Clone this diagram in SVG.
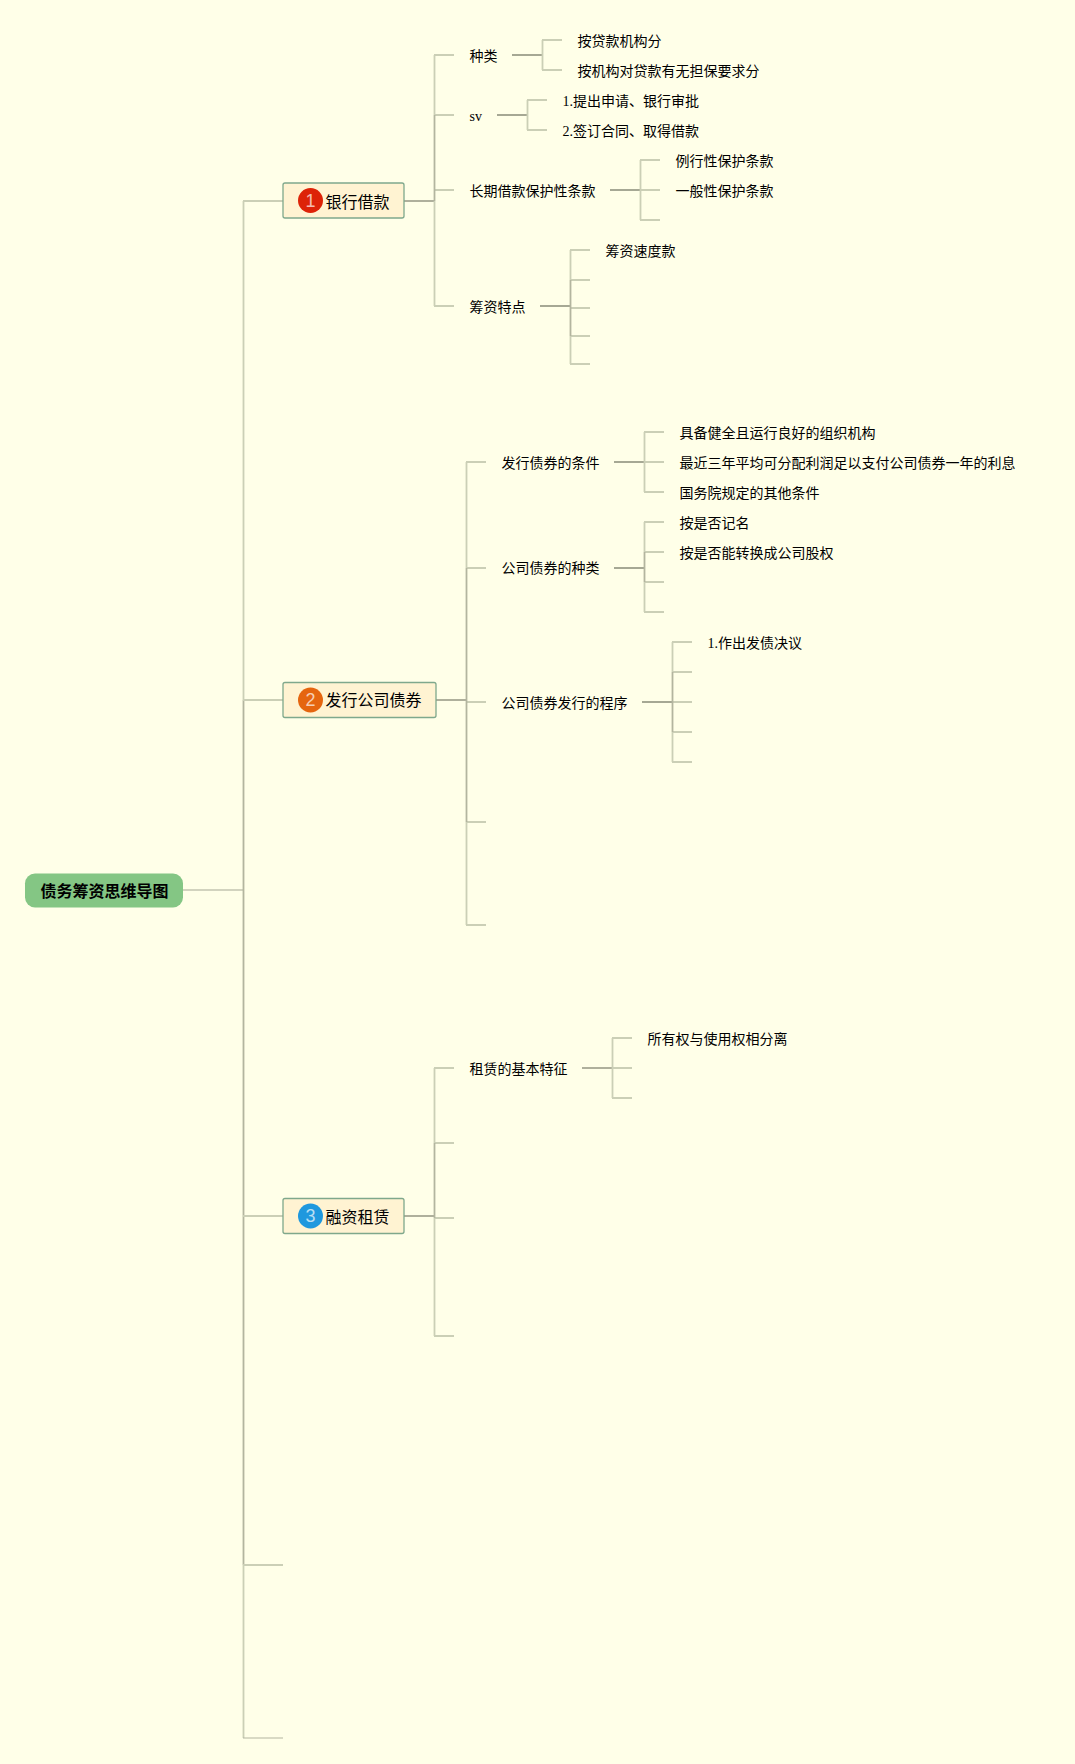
<svg xmlns="http://www.w3.org/2000/svg" width="1075" height="1764" viewBox="0 0 1075 1764">
<style>
text{font-family:"Liberation Serif","Noto Sans CJK SC",serif;fill:#000}
.t{font-size:14px}
.m{font-size:16px}
.r{font-size:16px;font-weight:700}
.n{font-size:18px;fill:#fff;fill-opacity:.7;text-anchor:middle;font-family:"Liberation Sans",sans-serif}
.box{fill:#fff3d2;stroke:#7fa88c;stroke-width:1.3}
path{fill:none;stroke-width:1.8}
.a{stroke:#b3b59f}
.b{stroke:#cbcfb6}
.c{stroke:#a6a894}
</style>
<rect width="1075" height="1764" fill="#ffffe8"/>
<g id="connectors">
<path class="c" d="M183 890H243" style="stroke-width:1.1"/>
<path class="b" d="M243.500 201V700M243.500 1565V1738"/>
<path class="a" d="M243.500 700V1565"/>
<path class="b" d="M243 201H283M243 700H283M243 1216H283M243 1565H283"/>
<path class="a" d="M243 1738H283" style="stroke-width:1.2"/>
<path class="c" d="M404 201H434"/>
<path class="b" d="M434.500 55V115M434.500 201V306M434 55H454M434 115H454M434 190H454M434 306H454"/>
<path class="a" d="M434.500 115V201"/>
<path class="c" d="M512 55H542M497 115H527M610 190H640M540 306H570"/>
<path class="b" d="M542.500 40V70M542 40H562M542 70H562"/>
<path class="b" d="M527.500 100V130M527 100H547M527 130H547"/>
<path class="b" d="M640.500 160V220M640 160H660M640 190H660M640 220H660"/>
<path class="b" d="M570.500 250V280M570.500 336V364M570 250H590M570 280H590M570 308H590M570 336H590M570 364H590"/>
<path class="a" d="M570.500 280V336"/>
<path class="c" d="M436 700H466"/>
<path class="b" d="M466.500 462V568M466.500 822V925M466 462H486M466 568H486M466 702H486M466 822H486M466 925H486"/>
<path class="a" d="M466.500 568V822"/>
<path class="c" d="M614 462H644M614 568H644M642 702H672"/>
<path class="b" d="M644.500 432V492M644 432H664M644 462H664M644 492H664"/>
<path class="b" d="M644.500 522V552M644.500 582V612M644 522H664M644 552H664M644 582H664M644 612H664"/>
<path class="a" d="M644.500 552V582"/>
<path class="b" d="M672.500 642V672M672.500 732V762M672 642H692M672 672H692M672 702H692M672 732H692M672 762H692"/>
<path class="a" d="M672.500 672V732"/>
<path class="c" d="M404 1216H434"/>
<path class="b" d="M434.500 1068V1143M434.500 1218V1336M434 1068H454M434 1143H454M434 1218H454M434 1336H454"/>
<path class="a" d="M434.500 1143V1218"/>
<path class="c" d="M582 1068H612"/>
<path class="b" d="M612.500 1038V1098M612 1038H632M612 1068H632M612 1098H632"/>
</g>
<g id="root"><rect x="25" y="873.500" width="158" height="34" rx="10" fill="#84c684"/><text class="r" x="40.500" y="896.500">债务筹资思维导图</text></g>
<g id="n1"><rect class="box" x="283" y="183" width="121" height="35" rx="2"/><circle cx="310.500" cy="200.500" r="12.500" fill="#dd2308"/><text class="n" x="310.500" y="206.500">1</text><text class="m" x="325.500" y="208">银行借款</text></g>
<g id="n2"><rect class="box" x="283" y="682.500" width="153" height="35" rx="2"/><circle cx="310.500" cy="700" r="12.500" fill="#e5650f"/><text class="n" x="310.500" y="706">2</text><text class="m" x="325.500" y="706">发行公司债券</text></g>
<g id="n3"><rect class="box" x="283" y="1198.500" width="121" height="35" rx="2"/><circle cx="310.500" cy="1216" r="12.500" fill="#1f98de"/><text class="n" x="310.500" y="1222">3</text><text class="m" x="325.500" y="1223">融资租赁</text></g>
<g id="n1a"><text class="t" x="469.500" y="61">种类</text></g>
<g id="n1a1"><text class="t" x="577.500" y="46">按贷款机构分</text></g>
<g id="n1a2"><text class="t" x="577.500" y="76">按机构对贷款有无担保要求分</text></g>
<g id="n1b"><text class="t" x="469.500" y="121">sv</text></g>
<g id="n1b1"><text class="t" x="562.500" y="106">1.提出申请、银行审批</text></g>
<g id="n1b2"><text class="t" x="562.500" y="136">2.签订合同、取得借款</text></g>
<g id="n1c"><text class="t" x="469.500" y="196">长期借款保护性条款</text></g>
<g id="n1c1"><text class="t" x="675.500" y="166">例行性保护条款</text></g>
<g id="n1c2"><text class="t" x="675.500" y="196">一般性保护条款</text></g>
<g id="n1d"><text class="t" x="469.500" y="312">筹资特点</text></g>
<g id="n1d1"><text class="t" x="605.500" y="256">筹资速度款</text></g>
<g id="n2a"><text class="t" x="501.500" y="468">发行债券的条件</text></g>
<g id="n2a1"><text class="t" x="679.500" y="438">具备健全且运行良好的组织机构</text></g>
<g id="n2a2"><text class="t" x="679.500" y="468">最近三年平均可分配利润足以支付公司债券一年的利息</text></g>
<g id="n2a3"><text class="t" x="679.500" y="498">国务院规定的其他条件</text></g>
<g id="n2b"><text class="t" x="501.500" y="573">公司债券的种类</text></g>
<g id="n2b1"><text class="t" x="679.500" y="528">按是否记名</text></g>
<g id="n2b2"><text class="t" x="679.500" y="558">按是否能转换成公司股权</text></g>
<g id="n2c"><text class="t" x="501.500" y="708">公司债券发行的程序</text></g>
<g id="n2c1"><text class="t" x="707.500" y="648">1.作出发债决议</text></g>
<g id="n3a"><text class="t" x="469.500" y="1074">租赁的基本特征</text></g>
<g id="n3a1"><text class="t" x="647.500" y="1044">所有权与使用权相分离</text></g>
</svg>
